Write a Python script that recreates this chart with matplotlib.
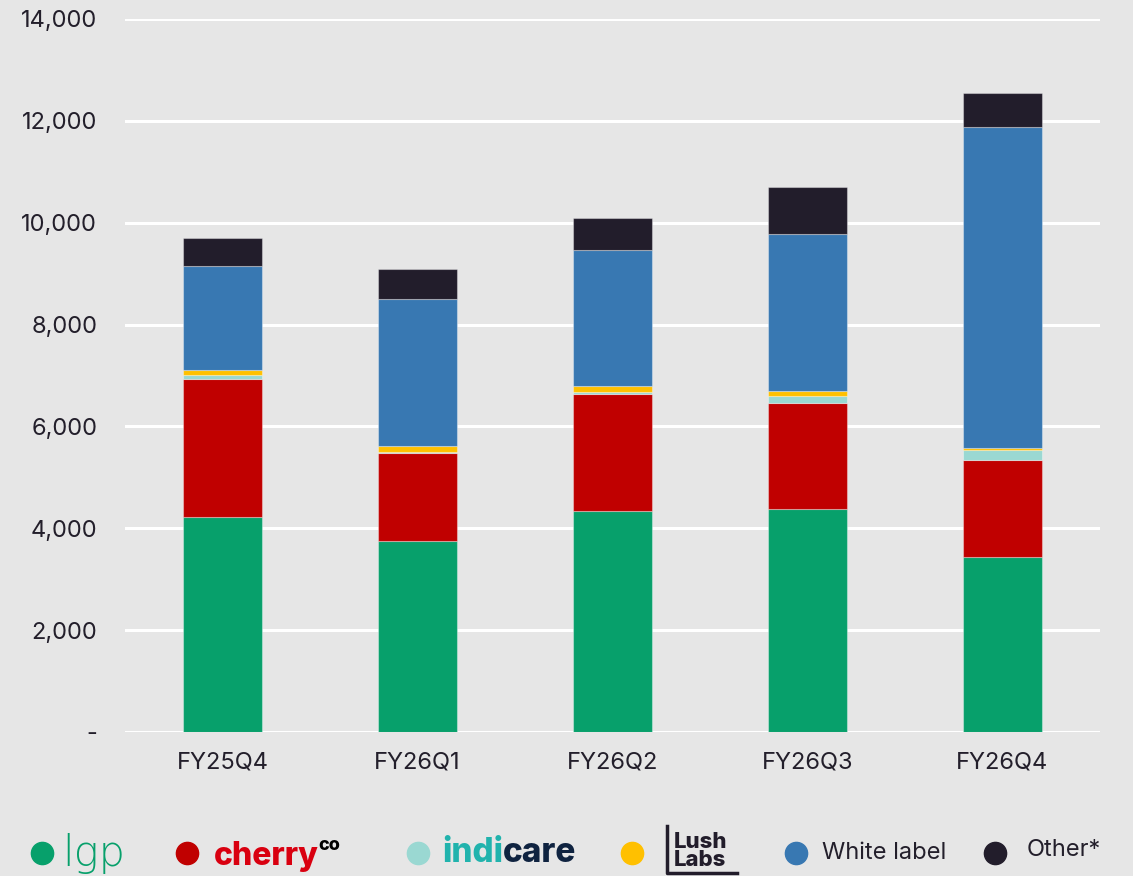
import matplotlib
matplotlib.use('Agg')
import matplotlib.pyplot as plt
from matplotlib.lines import Line2D
from matplotlib.ticker import FuncFormatter

# ---- data ----
quarters = ["FY25Q4", "FY26Q1", "FY26Q2", "FY26Q3", "FY26Q4"]
lgp = [4220, 3750, 4340, 4380, 3440]
cherry = [2710, 1730, 2300, 2075, 1895]
indicare = [70, 20, 45, 150, 210]
lush_labs = [110, 117, 100, 98, 40]
white_label = [2040, 2890, 2685, 3077, 6300]
other = [550, 590, 630, 924, 670]

series = [lgp, cherry, indicare, lush_labs, white_label, other]
colors = ["#07a06b", "#c00000", "#9ad8d2", "#ffc000", "#3878b2", "#221d2b"]

BG = "#e6e6e6"
TXT = "#231f2b"
plt.rcParams["font.family"] = ["Inter", "DejaVu Sans"]

fig = plt.figure(figsize=(11.33, 8.76), dpi=100, facecolor=BG)
ax = fig.add_axes([125 / 1133, 1 - 732 / 876, 975 / 1133, 713 / 876])
ax.set_facecolor(BG)

x = range(len(quarters))
bottom = [0] * len(quarters)
for vals, c in zip(series, colors):
    ax.bar(x, vals, width=0.405, bottom=bottom, color=c,
           edgecolor=(1, 1, 1, 0.35), linewidth=0.8, zorder=3)
    bottom = [b + v for b, v in zip(bottom, vals)]

ax.set_xlim(-0.5, 4.5)
ax.set_ylim(0, 14000)
ax.set_yticks(range(0, 14001, 2000))
ax.yaxis.set_major_formatter(FuncFormatter(lambda v, p: "-" if v == 0 else f"{int(v):,}"))
ax.set_xticks(list(x))
ax.set_xticklabels(quarters)
ax.tick_params(axis="y", length=0, pad=20, labelsize=17, labelcolor=TXT)
ax.tick_params(axis="x", length=0, pad=14, labelsize=17, labelcolor=TXT)
ax.grid(axis="y", color="white", linewidth=2.2, zorder=1)
for s in ax.spines.values():
    s.set_visible(False)

# ---- legend with brand-style labels ----
ly = 1 - 853 / 876
def dot(px, c):
    fig.add_artist(Line2D([px / 1133], [ly], marker="o", markersize=16,
                          color=c, linestyle="none", transform=fig.transFigure))

dot(42, colors[0])
fig.text(62 / 1133, ly, "lgp", color=colors[0], fontsize=30, va="center",
         family="DejaVu Sans", fontweight="light")

dot(187, colors[1])
fig.text(214 / 1133, ly - 0.004, "cherry", color="#d90010", fontsize=23, va="center",
         fontweight="heavy")
fig.text(318 / 1133, ly + 0.008, "co", color="black", fontsize=13, va="center",
         fontweight="heavy")

dot(418, colors[2])
fig.text(442 / 1133, ly, "indi", color="#21b3ad", fontsize=24, va="center",
         fontweight="heavy")
fig.text(503 / 1133, ly, "care", color="#0f2340", fontsize=24, va="center",
         fontweight="heavy")

dot(632, colors[3])
fig.text(674 / 1133, ly + 0.002, "Lush\nLabs", color="#221d2b", fontsize=16,
         va="center", fontweight="heavy", linespacing=0.85)
fig.add_artist(Line2D([667 / 1133, 667 / 1133, 737 / 1133],
                      [1 - 826 / 876, 1 - 873 / 876, 1 - 873 / 876],
                      color="#221d2b", linewidth=2.5, transform=fig.transFigure))

dot(796, colors[4])
fig.text(822 / 1133, ly, "White label", color=TXT, fontsize=17, va="center")

dot(995, colors[5])
fig.text(1027 / 1133, ly + 0.003, "Other*", color=TXT, fontsize=17, va="center")

fig.savefig("out.png", dpi=100, facecolor=BG)
